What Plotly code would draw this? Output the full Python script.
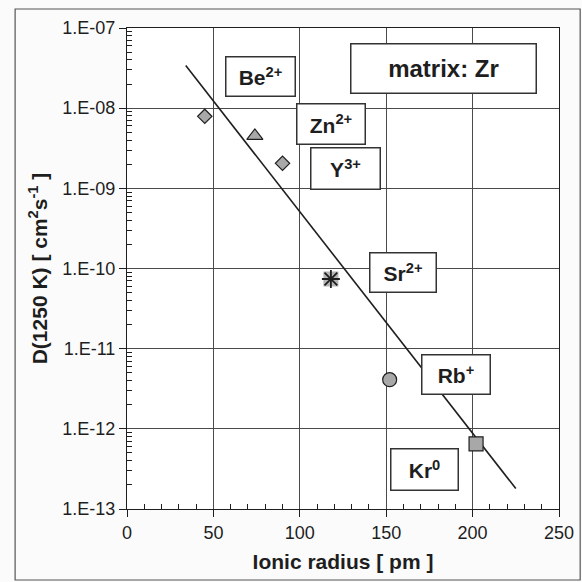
import plotly.graph_objects as go

# ---- data ----
ions = ["Be2+", "Zn2+", "Y3+", "Sr2+", "Rb+", "Kr0"]
radius_pm = [45, 74, 90, 118, 152, 202]
D_1250K = [7.9e-9, 4.5e-9, 2.05e-9, 7.4e-11, 4.1e-12, 6.5e-13]
symbols = ["diamond", "triangle-up", "diamond", "square", "circle", "square"]

fit_x = [34, 225]
fit_y = [3.4e-8, 1.8e-13]

ytick_vals = [1e-13, 1e-12, 1e-11, 1e-10, 1e-9, 1e-8, 1e-7]
ytick_text = ["1.E-13", "1.E-12", "1.E-11", "1.E-10", "1.E-09", "1.E-08", "1.E-07"]
xtick_vals = [0, 50, 100, 150, 200, 250]

label_text = ["Be<sup>2+</sup>", "Zn<sup>2+</sup>", "Y<sup>3+</sup>", "Sr<sup>2+</sup>",
              "Rb<sup>+</sup>", "Kr<sup>0</sup>"]
label_x = [77, 118, 126.7, 159.7, 190.4, 171.9]
label_ylog = [-7.60, -8.20, -8.75, -10.05, -11.32, -12.51]
label_w = [60, 59, 60, 57, 59, 58]
label_h = [30, 31, 32, 30, 30, 32]

title_text = "matrix: Zr"

# minor tick positions (axis decoration)
x_minor = [v for v in range(0, 251, 10) if v % 50 != 0]
y_minor = [m * 10.0 ** e for e in range(-13, -7) for m in range(2, 10)]

FONT = "Liberation Sans, Arial, sans-serif"
INK = "#1e1e1e"
GRID = "#4a4a4a"
FILL = "#a8a8a8"

fig = go.Figure()

fig.add_trace(go.Scatter(x=fit_x, y=fit_y, mode="lines",
                         line=dict(color=INK, width=1.6), showlegend=False,
                         hoverinfo="skip"))

sizes = [11, 14, 11, 15, 14, 14]
for i in range(len(ions)):
    fig.add_trace(go.Scatter(
        x=[radius_pm[i]], y=[D_1250K[i]], mode="markers", name=ions[i],
        marker=dict(symbol=symbols[i], size=sizes[i], color=FILL if i != 3 else "#b4b4b4",
                    line=dict(color=INK if i != 3 else "rgba(0,0,0,0)", width=1.2)),
        showlegend=False))
    if i == 3:
        fig.add_trace(go.Scatter(
            x=[radius_pm[i]], y=[D_1250K[i]], mode="markers", name=ions[i],
            marker=dict(symbol="asterisk-open", size=15, color=INK,
                        line=dict(color=INK, width=1.8)),
            showlegend=False))

for t, x, y, w, h in zip(label_text, label_x, label_ylog, label_w, label_h):
    fig.add_annotation(x=x, y=y, xref="x", yref="y", text="<b>" + t + "</b>",
                       showarrow=False, font=dict(family=FONT, size=21, color=INK),
                       bgcolor="white", bordercolor="#333333", borderwidth=1.5,
                       borderpad=4, width=w, height=h, align="center", valign="middle")

fig.add_annotation(x=183.4, y=-7.50, xref="x", yref="y", text="<b>" + title_text + "</b>",
                   showarrow=False, font=dict(family=FONT, size=24, color=INK),
                   bgcolor="white", bordercolor="#333333", borderwidth=1.5,
                   borderpad=4, width=176, height=40, align="center", valign="middle")

# outer chart frame
fig.add_shape(type="rect", xref="paper", yref="paper",
              x0=-0.259, x1=1.049, y0=-0.1476, y1=1.0395,
              line=dict(color="#555555", width=1.2), fillcolor="rgba(0,0,0,0)",
              layer="above")

fig.update_layout(
    template="none",
    width=582, height=582,
    margin=dict(l=127, r=23, t=28, b=73),
    paper_bgcolor="#fbfbfb", plot_bgcolor="white",
    font=dict(family=FONT, color=INK),
    xaxis=dict(range=[0, 250], tickmode="array", tickvals=xtick_vals,
               showgrid=True, gridcolor=GRID,
               gridwidth=1, ticks="outside", ticklen=7, tickcolor=INK,
               showline=True, linecolor=INK, linewidth=1, mirror=True,
               zeroline=False,
               tickfont=dict(size=18, family=FONT, color=INK),
               minor=dict(tickmode="array", tickvals=x_minor, ticks="inside", ticklen=5,
                          tickcolor=INK, showgrid=False),
               title=dict(text="<b>Ionic radius [ pm ]</b>", font=dict(size=21, family=FONT),
                          standoff=12)),
    yaxis=dict(type="log", range=[-13, -7], tickmode="array", tickvals=ytick_vals,
               ticktext=ytick_text,
               showgrid=True, gridcolor=GRID, gridwidth=1, ticks="outside", ticklen=7,
               tickcolor=INK, showline=True, linecolor=INK, linewidth=1, mirror=True,
               zeroline=False,
               tickfont=dict(size=18, family=FONT, color=INK),
               minor=dict(tickmode="array", tickvals=y_minor, ticks="inside", ticklen=5,
                          tickcolor=INK, showgrid=False),
               title=dict(text="<b>D(1250 K) [ cm<sup>2</sup>s<sup>-1</sup> ]</b>",
                          font=dict(size=21, family=FONT), standoff=9)),
)

fig.write_html("out.html", config={"displayModeBar": False},
               post_script="document.body.style.margin='0px';")
